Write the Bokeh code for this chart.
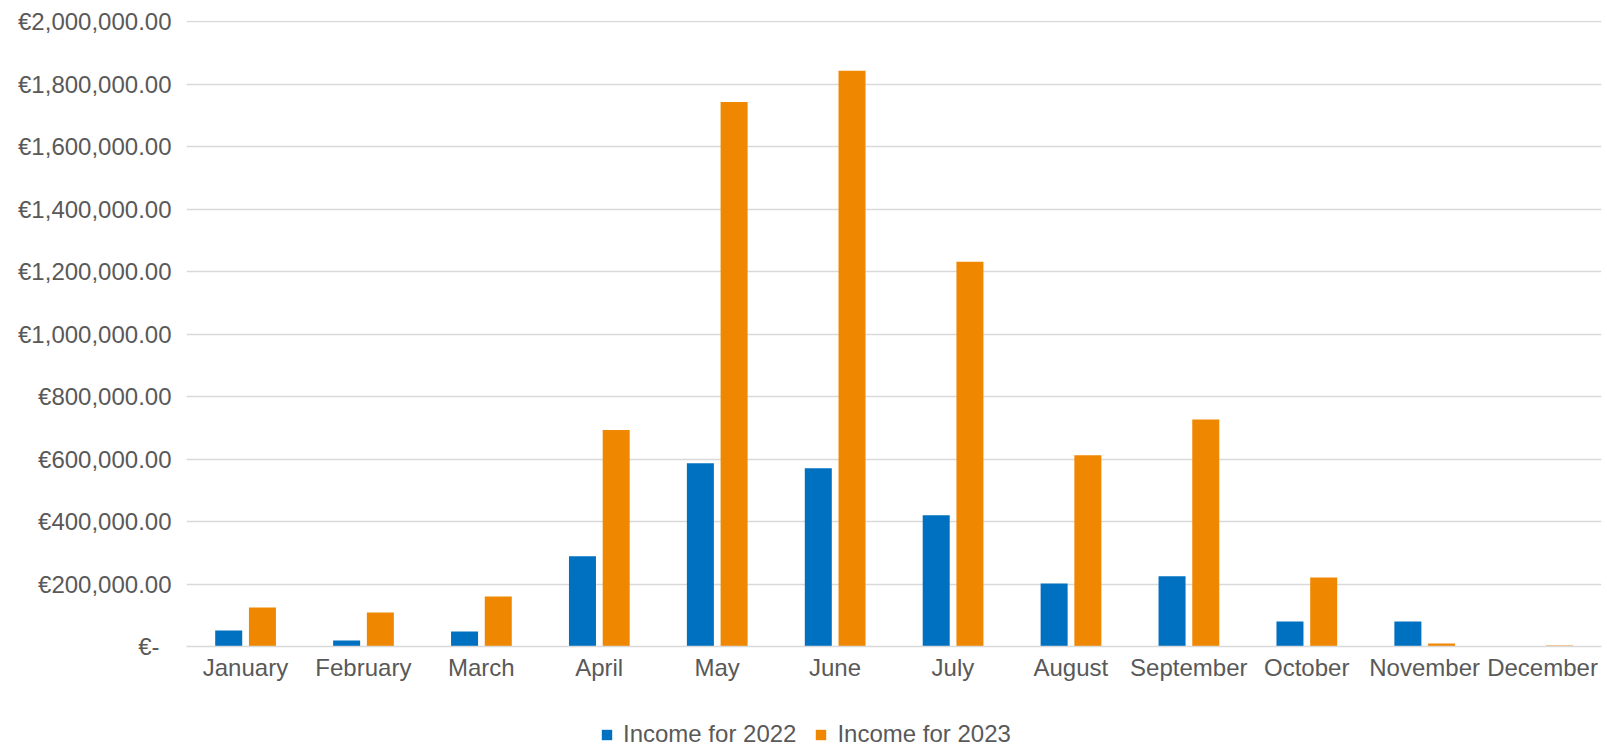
from bokeh.plotting import figure
from bokeh.models import ColumnDataSource, Range1d, FixedTicker, Legend, LegendItem
from bokeh.layouts import column
from bokeh.transform import dodge
from bokeh.embed import file_html
from bokeh.resources import INLINE

months = ["January", "February", "March", "April", "May", "June", "July",
          "August", "September", "October", "November", "December"]
income_2022 = [51000, 19000, 48000, 289000, 587000, 571000, 420000,
               202000, 225000, 80000, 80000, 0]
income_2023 = [125000, 109000, 160000, 693000, 1743000, 1843000, 1232000,
               612000, 727000, 221000, 10000, 3000]
series_names = ["Income for 2022", "Income for 2023"]
y_ticks = [0, 200000, 400000, 600000, 800000, 1000000, 1200000, 1400000,
           1600000, 1800000, 2000000]
# accounting format: the zero label carries trailing padding
y_tick_labels = ["€-\u2002", "€200,000.00", "€400,000.00", "€600,000.00", "€800,000.00",
                 "€1,000,000.00", "€1,200,000.00", "€1,400,000.00", "€1,600,000.00",
                 "€1,800,000.00", "€2,000,000.00"]

FONT = "Liberation Sans"
TXT = "#595959"
BLUE = "#0070c0"
ORANGE = "#ef8700"

src = ColumnDataSource(dict(month=months, v22=income_2022, v23=income_2023))

p = figure(x_range=months, y_range=Range1d(0, 2004000), width=1604, height=700,
           output_backend="svg", toolbar_location=None,
           min_border_left=186, min_border_right=3, min_border_top=20,
           min_border_bottom=54)

p.vbar(x=dodge("month", -0.142, range=p.x_range), top="v22", width=0.229,
       source=src, fill_color=BLUE, line_color=None)
p.vbar(x=dodge("month", 0.144, range=p.x_range), top="v23", width=0.229,
       source=src, fill_color=ORANGE, line_color=None)

p.outline_line_color = None
p.xgrid.grid_line_color = None
p.ygrid.grid_line_color = "#d9d9d9"
p.ygrid.grid_line_width = 1.5

p.yaxis.ticker = FixedTicker(ticks=y_ticks)
p.yaxis.major_label_overrides = {t: l for t, l in zip(y_ticks, y_tick_labels)}
p.yaxis.axis_line_color = None
p.yaxis.major_tick_line_color = None
p.yaxis.minor_tick_line_color = None
p.yaxis.major_tick_out = 0
p.yaxis.major_tick_in = 0
p.yaxis.major_label_standoff = 15
p.yaxis.major_label_text_font = FONT
p.yaxis.major_label_text_font_size = "24px"
p.yaxis.major_label_text_color = TXT

p.xaxis.axis_line_color = "#d9d9d9"
p.xaxis.axis_line_width = 1.5
p.xaxis.major_tick_line_color = None
p.xaxis.minor_tick_line_color = None
p.xaxis.major_tick_out = 0
p.xaxis.major_tick_in = 0
p.xaxis.major_label_standoff = 7
p.xaxis.major_label_text_font = FONT
p.xaxis.major_label_text_font_size = "24px"
p.xaxis.major_label_text_color = TXT

# Legend strip below the chart (key renderers have zero height, so draw nothing)
lg = figure(width=1604, height=46, x_range=Range1d(0, 1), y_range=Range1d(0, 1),
            output_backend="svg", toolbar_location=None,
            x_axis_type=None, y_axis_type=None,
            min_border_left=0, min_border_right=0, min_border_top=0,
            min_border_bottom=0)
lg.outline_line_color = None
lg.xgrid.grid_line_color = None
lg.ygrid.grid_line_color = None
k1 = lg.vbar(x=[0.5], top=[0], bottom=[0], width=0.1, fill_color=BLUE, line_color=None)
k2 = lg.vbar(x=[0.5], top=[0], bottom=[0], width=0.1, fill_color=ORANGE, line_color=None)

legend = Legend(items=[LegendItem(label=series_names[0], renderers=[k1]),
                       LegendItem(label=series_names[1], renderers=[k2])],
                orientation="horizontal", location=(414, -2),
                padding=0, margin=0, spacing=18, label_standoff=10,
                glyph_width=13, glyph_height=13,
                label_text_font=FONT, label_text_font_size="24px",
                label_text_color=TXT, border_line_color=None,
                background_fill_alpha=0)
lg.add_layout(legend, "center")

layout = column(p, lg, spacing=0)
open("out.html", "w").write(file_html(layout, INLINE))
